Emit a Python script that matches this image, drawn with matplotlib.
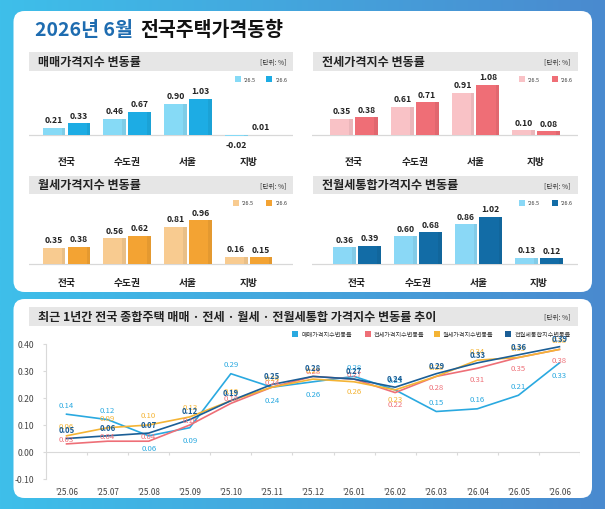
import numpy as np
import matplotlib.pyplot as plt
import matplotlib.colors as mcolors
from matplotlib.patches import FancyBboxPatch, Rectangle

plt.rcParams["font.family"] = ["Noto Sans CJK KR", "DejaVu Sans"]
plt.rcParams["axes.unicode_minus"] = False

W, H = 605, 510

# ── 데이터 ────────────────────────────────────────────
regions = ["전국", "수도권", "서울", "지방"]
legend_months = ["'26.5", "'26.6"]

sale_may = [0.21, 0.46, 0.90, -0.02]
sale_jun = [0.33, 0.67, 1.03, 0.01]
jeonse_may = [0.35, 0.61, 0.91, 0.10]
jeonse_jun = [0.38, 0.71, 1.08, 0.08]
wolse_may = [0.35, 0.56, 0.81, 0.16]
wolse_jun = [0.38, 0.62, 0.96, 0.15]
combined_may = [0.36, 0.60, 0.86, 0.13]
combined_jun = [0.39, 0.68, 1.02, 0.12]

months = ["'25.06", "'25.07", "'25.08", "'25.09", "'25.10", "'25.11", "'25.12",
          "'26.01", "'26.02", "'26.03", "'26.04", "'26.05", "'26.06"]
trend_sale = [0.14, 0.12, 0.06, 0.09, 0.29, 0.24, 0.26, 0.28, 0.23, 0.15, 0.16, 0.21, 0.33]
trend_jeonse = [0.03, 0.04, 0.04, 0.10, 0.18, 0.24, 0.28, 0.27, 0.22, 0.28, 0.31, 0.35, 0.38]
trend_wolse = [0.06, 0.09, 0.10, 0.13, 0.19, 0.24, 0.27, 0.26, 0.23, 0.28, 0.34, 0.35, 0.38]
trend_combined = [0.05, 0.06, 0.07, 0.12, 0.19, 0.25, 0.28, 0.27, 0.24, 0.29, 0.33, 0.36, 0.39]
trend_names = ["매매가격지수변동률", "전세가격지수변동률", "월세가격지수변동률", "전월세통합지수변동률"]


def px_axes(x0, y0, x1, y1):
    """픽셀 좌표(좌상단 기준)로 axes 생성"""
    return fig.add_axes([x0 / W, 1 - y1 / H, (x1 - x0) / W, (y1 - y0) / H])


def shade(c, f=0.9):
    r, g, b = mcolors.to_rgb(c)
    return (r * f, g * f, b * f)


fig = plt.figure(figsize=(W / 100, H / 100), dpi=100)
bg = fig.add_axes([0, 0, 1, 1])
t = np.linspace(0, 1, 256)
c1 = np.array(mcolors.to_rgb("#3EBFEA"))
c2 = np.array(mcolors.to_rgb("#4A8ACF"))
grad = c1[None, :] * (1 - t[:, None]) + c2[None, :] * t[:, None]
bg.imshow(grad[None, :, :], extent=(0, W, H, 0), aspect="auto", zorder=0)
bg.set_xlim(0, W); bg.set_ylim(H, 0); bg.axis("off")

for y, h in [(12, 281), (300, 199)]:
    bg.add_patch(FancyBboxPatch((13.5, y), 578.5, h, boxstyle="round,pad=0,rounding_size=11",
                                fc="white", ec="none", zorder=1))

# 제목: 앞부분(파랑) 폭을 재서 뒷부분을 이어 붙인다
t1 = bg.text(35, 30, "2026년 6월", color="#1E6CB0", fontsize=14, fontweight="bold",
             va="center", zorder=3)
fig.canvas.draw()
ext = t1.get_window_extent(renderer=fig.canvas.get_renderer())
bg.text(ext.x1 + 7, 30, "전국주택가격동향", color="#111111", fontsize=14, fontweight="bold",
        va="center", zorder=3)


def header(x0, x1, top, title, h=18.5):
    bg.add_patch(Rectangle((x0, top), x1 - x0, h, fc="#E6E6E6", ec="none", zorder=2))
    bg.text(x0 + 9, top + h / 2, title, fontsize=8.7, fontweight="bold", color="#222222",
            va="center", zorder=3)
    bg.text(x1 - 7, top + h / 2 + 1, "[단위: %]", fontsize=4.8, color="#333333",
            ha="right", va="center", zorder=3)


def bar_panel(title, may, jun, c_may, c_jun, x0, x1, top, base, scale, c0, cat_y, leg_x):
    header(x0, x1, top, title)
    # 범례
    ly = top + 27
    for lx, col, lab in zip(leg_x, (c_may, c_jun), legend_months):
        bg.add_patch(Rectangle((lx, ly - 3), 6, 6, fc=col, ec="none", zorder=3))
        bg.text(lx + 9, ly, lab, fontsize=3.9, color="#333333", va="center", zorder=3)

    spacing = 60.7
    y0, y1 = top + 29, cat_y + 8
    ax = px_axes(x0, y0, x1, y1)
    ax.set_xlim((x0 - c0) / spacing, (x1 - c0) / spacing)
    ax.set_ylim(-(y1 - base) / scale, (base - y0) / scale)
    ax.axis("off")
    ax.patch.set_alpha(0)
    x = np.arange(len(regions))
    bw, off = 0.375, 0.205
    for dx, vals, col in [(-off, may, c_may), (off, jun, c_jun)]:
        ax.bar(x + dx, vals, width=bw, color=col, zorder=2)
        ax.bar(x + dx + bw / 2 - 0.03, vals, width=0.06, color=shade(col, 0.94), zorder=2)
        for xi, v in zip(x + dx, vals):
            if v >= 0:
                ax.annotate(f"{v:.2f}", (xi, v), xytext=(0, 2.5), textcoords="offset points",
                            ha="center", va="bottom", fontsize=6.2, fontweight="bold", color="#222222")
            else:
                ax.annotate(f"{v:.2f}", (xi, v), xytext=(0, -3), textcoords="offset points",
                            ha="center", va="top", fontsize=6.2, fontweight="bold", color="#222222")
    ax.axhline(0, color="#D8D8D8", lw=0.9, zorder=1)
    for xi, r in zip(x, regions):
        ax.text(xi, -(cat_y - base) / scale, r, ha="center", va="center",
                fontsize=7, fontweight="bold", color="#222222")


L, R = (29, 293), (312.5, 577.5)
bar_panel("매매가격지수 변동률", sale_may, sale_jun, "#86DAF6", "#1DACE4",
          *L, 53, 136, 35, 66.5, 162, (235, 266))
bar_panel("전세가격지수 변동률", jeonse_may, jeonse_jun, "#F9C2C6", "#EF6E76",
          *R, 53, 136, 46.5, 354, 162, (519, 551.7))
bar_panel("월세가격지수 변동률", wolse_may, wolse_jun, "#F8CB90", "#F3A333",
          *L, 176.5, 265, 45.8, 66.5, 283, (233, 266))
bar_panel("전월세통합가격지수 변동률", combined_may, combined_jun, "#8AD8F6", "#126CA6",
          *R, 176.5, 265, 46.4, 357, 283, (519, 551.7))

# ── 하단: 1년 추이 ─────────────────────────────────────
header(29, 577.5, 308, "최근 1년간 전국 종합주택 매매 · 전세 · 월세 · 전월세통합 가격지수 변동률 추이")

line_colors = ["#2AA9E0", "#EE6F77", "#F4B435", "#1B5E96"]
for lx, col, lab in zip((292, 364.6, 434, 505.4), line_colors, trend_names):
    bg.add_patch(Rectangle((lx, 332), 6, 6, fc=col, ec="none", zorder=3))
    bg.text(lx + 9, 335, lab, fontsize=4.4, color="#333333", va="center", zorder=3)

ax = px_axes(46, 345, 580, 480)
ax.patch.set_alpha(0)
ax.set_xlim(-0.5, 12.5)
ax.set_ylim(-0.1, 0.4)
xs = np.arange(len(months))
series = [trend_sale, trend_jeonse, trend_wolse, trend_combined]
for vals, col in zip(series, line_colors):
    ax.plot(xs, vals, color=col, lw=1.2, zorder=3)

# 데이터 레이블 위치 (위/아래)
sale_below = {2, 3, 5, 6, 12}
for i, v in enumerate(trend_sale):
    dy = -6 if i in sale_below else 4
    ax.annotate(f"{v:.2f}", (i, v), xytext=(0, dy), textcoords="offset points", ha="center",
                va="top" if dy < 0 else "bottom", fontsize=5.6, color=line_colors[0])
for i, v in enumerate(trend_jeonse):
    dy = -5 if i >= 8 else 1
    ax.annotate(f"{v:.2f}", (i, v), xytext=(0, dy), textcoords="offset points", ha="center",
                va="top" if dy < 0 else "bottom", fontsize=5.6, color=line_colors[1])
for i, v in enumerate(trend_wolse):
    dy = -4 if i in (7, 8) else 4
    ax.annotate(f"{v:.2f}", (i, v), xytext=(0, dy), textcoords="offset points", ha="center",
                va="top" if dy < 0 else "bottom", fontsize=5.6, color=line_colors[2])
for i, v in enumerate(trend_combined):
    ax.annotate(f"{v:.2f}", (i, v), xytext=(0, 3), textcoords="offset points", ha="center",
                va="bottom", fontsize=5.6, fontweight="bold", color=line_colors[3])

for s in ("top", "right", "bottom"):
    ax.spines[s].set_visible(False)
ax.spines["left"].set_color("#D9D9D9")
ax.axhline(0, color="#D9D9D9", lw=0.8, zorder=1)
ax.vlines(np.arange(-0.5, 13, 1), -0.012, 0, color="#D9D9D9", lw=0.8)
yt = [-0.1, 0.0, 0.1, 0.2, 0.3, 0.4]
ax.set_yticks(yt)
ax.set_yticklabels([f"{v:.2f}" for v in yt], fontsize=6.2, color="#444444")
ax.tick_params(axis="y", length=2.5, color="#D9D9D9", pad=6)
ax.set_xticks(xs)
ax.set_xticklabels(months, fontsize=5.9, color="#444444")
ax.tick_params(axis="x", length=0, pad=6)

fig.savefig("out.png", dpi=100)
